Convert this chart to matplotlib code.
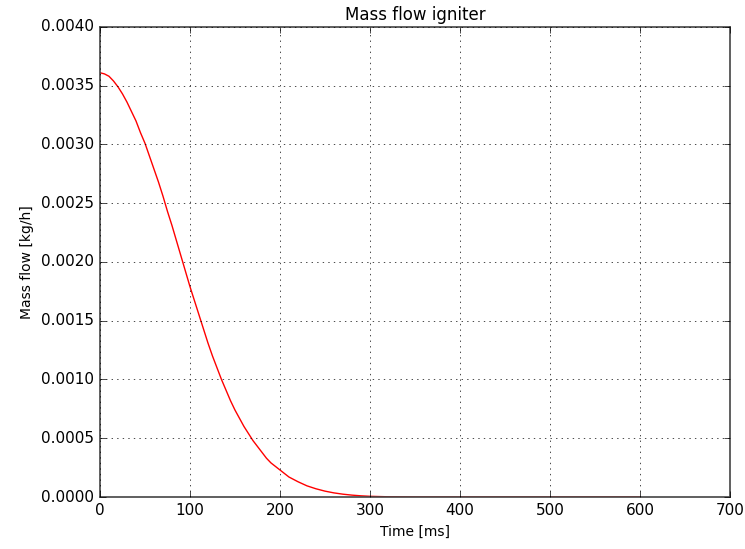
import matplotlib
matplotlib.use("Agg")
import matplotlib.pyplot as plt
import matplotlib.ticker as mticker

time_ms = [0, 5, 10, 15, 20, 25, 30, 35, 40, 45, 50, 55, 60, 65, 70, 75, 80,
           85, 90, 95, 100, 105, 110, 115, 120, 125, 130, 135, 140, 145, 150,
           155, 160, 165, 170, 175, 180, 185, 190, 195, 200, 210, 220, 230,
           240, 250, 260, 270, 280, 290, 300, 320, 350, 400, 450, 500, 550, 600]
mass_flow = [0.00361, 0.00360, 0.00358, 0.00354, 0.00349, 0.00343, 0.00336,
             0.00328, 0.00320, 0.00310, 0.00301, 0.00290, 0.00279, 0.00268,
             0.00256, 0.00243, 0.00231, 0.00218, 0.00205, 0.00192, 0.00179,
             0.00167, 0.00155, 0.00143, 0.00131, 0.00120, 0.00110, 0.00100,
             0.00091, 0.00082, 0.00074, 0.00067, 0.00060, 0.00054, 0.00048,
             0.00043, 0.00038, 0.00033, 0.00029, 0.00026, 0.00023, 0.00017,
             0.00013, 0.000095, 0.00007, 0.00005, 0.000035, 0.000024,
             0.000016, 0.00001, 0.000006, 0.000002, 0.0, 0.0, 0.0, 0.0, 0.0,
             0.0]

plt.style.use('classic')
fig = plt.figure(figsize=(7.45, 5.49), dpi=100, facecolor='white')
ax = fig.add_axes([0.1342, 0.0947, 0.8456, 0.8563])
ax.plot(time_ms, mass_flow, color='red', linewidth=1.0)
ax.set_xlim(0, 700)
ax.set_ylim(0, 0.004)
ax.set_xticks(range(0, 701, 100))
ax.set_yticks([i * 0.0005 for i in range(9)])
ax.yaxis.set_major_formatter(mticker.FormatStrFormatter('%.4f'))
ax.grid(True, color='black', linestyle=':', linewidth=0.5)
for s in ax.spines.values():
    s.set_color('#444444')
    s.set_linewidth(1.2)
ax.set_title('Mass flow igniter', fontsize=12)
ax.set_xlabel('Time [ms]', fontsize=10)
ax.set_ylabel('Mass flow [kg/h]', fontsize=10)
ax.tick_params(labelsize=11)
fig.savefig('out.png', dpi=100, facecolor='white')
